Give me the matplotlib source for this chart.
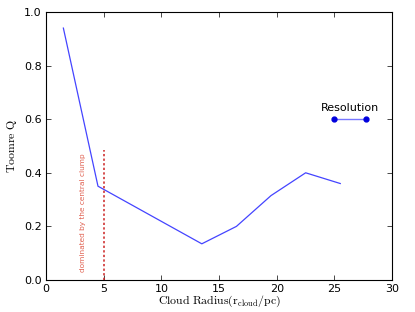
import matplotlib
matplotlib.use("Agg")
import matplotlib.pyplot as plt

radius = [1.5, 4.5, 13.5, 16.5, 19.5, 22.5, 25.5]
toomre_q = [0.94, 0.35, 0.135, 0.20, 0.315, 0.40, 0.36]
res_x = [25.0, 27.75]
res_y = [0.6, 0.6]
clump_x = 5.0
clump_top = 0.485

plt.rcParams['mathtext.fontset'] = 'cm'
fig = plt.figure(figsize=(4.15, 3.12), dpi=100)
ax = fig.add_axes([0.111, 0.1026, 0.834, 0.8589])

ax.plot(radius, toomre_q, color='#4444ff', lw=0.9)
ax.plot(res_x, res_y, color='#7777ff', lw=1.0)
ax.plot(res_x, res_y, 'o', color='#0000dd', ms=3.5, mec='#0000dd')
ax.text(sum(res_x) / 2, 0.625, 'Resolution', ha='center', va='bottom', fontsize=8)

ax.plot([clump_x, clump_x], [0, clump_top], color='#cc2222', lw=1.1, ls=(0, (1.5, 1.5)))
ax.text(3.2, 0.03, 'dominated by the central clump', rotation=90, color='#e06050',
        fontsize=5.3, ha='center', va='bottom')

ax.set_xlim(0, 30)
ax.set_ylim(0, 1.0)
ax.set_xticks([0, 5, 10, 15, 20, 25, 30])
ax.set_yticks([0.0, 0.2, 0.4, 0.6, 0.8, 1.0])
ax.set_yticklabels(['0.0', '0.2', '0.4', '0.6', '0.8', '1.0'])
ax.tick_params(direction='in', top=True, right=True, labelsize=8, length=3.5, width=0.5, pad=3)
for s in ax.spines.values():
    s.set_linewidth(0.8)

ax.set_xlabel(r'$\mathrm{Cloud\ Radius(r_{cloud}/pc)}$', fontsize=8.5, labelpad=0)
ax.set_ylabel(r'$\mathrm{Toomre\ Q}$', fontsize=8.5, labelpad=4)

fig.savefig('out.png', dpi=100)
